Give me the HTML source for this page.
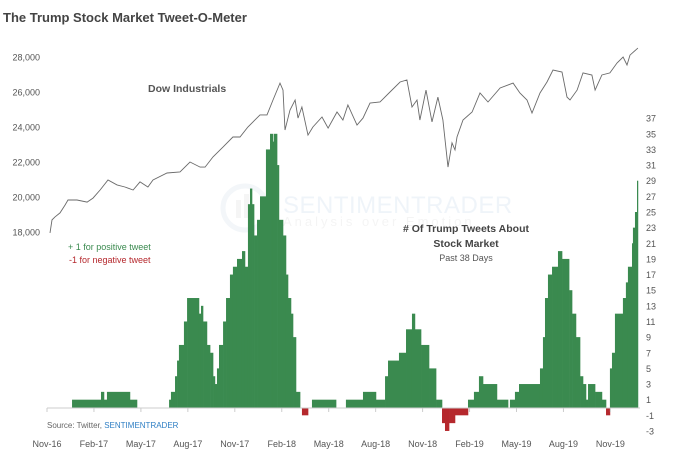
<!DOCTYPE html>
<html><head><meta charset="utf-8">
<style>
body{margin:0;background:#fff;}
svg{display:block;font-family:"Liberation Sans",sans-serif;}
</style></head>
<body>
<svg id="chart" width="679" height="459" viewBox="0 0 679 459">
  <text x="3" y="22" font-size="13" font-weight="bold" fill="#444">The Trump Stock Market Tweet-O-Meter</text>
  <g opacity="0.35">
    <circle cx="245" cy="208" r="22" fill="none" stroke="#dde6ee" stroke-width="5"/>
    <rect x="236" y="200" width="5" height="18" fill="#e4e4e4"/>
    <rect x="244" y="194" width="5" height="24" fill="#e4e4e4"/>
    <text x="283" y="213" font-size="24" fill="#d4e2ef" letter-spacing="0.5">SENTIMENTRADER</text>
    <text x="283" y="226" font-size="13" fill="#e2e2e2" letter-spacing="3">Analysis over Emotion</text>
  </g>
  <g id="leftAxis"></g>
  <g id="rightAxis"></g>
  <g id="bars"></g>
  <g id="xAxis"></g>
  <path id="dow" fill="none" stroke="#6a6a6a" stroke-width="0.9"/>
  <text x="148" y="92" font-size="10.5" font-weight="bold" fill="#555">Dow Industrials</text>
  <text x="68" y="250" font-size="9" fill="#3a8a4f">+ 1 for positive tweet</text>
  <text x="69" y="263" font-size="9" fill="#b5282d">-1 for negative tweet</text>
  <text x="466" y="232" font-size="10.5" font-weight="bold" fill="#444" text-anchor="middle"># Of Trump Tweets About</text>
  <text x="466" y="247" font-size="10.5" font-weight="bold" fill="#444" text-anchor="middle">Stock Market</text>
  <text x="466" y="261" font-size="9" fill="#555" text-anchor="middle">Past 38 Days</text>
  <text x="47" y="428" font-size="8" fill="#666">Source: Twitter, <tspan fill="#2f7fc4">SENTIMENTRADER</tspan></text>
</svg>
<script>
const monthLabels = ["Nov-16","Feb-17","May-17","Aug-17","Nov-17","Feb-18","May-18","Aug-18","Nov-18","Feb-19","May-19","Aug-19","Nov-19"];
const dowTicks = [18000,20000,22000,24000,26000,28000];
const tweetTicks = [-3,-1,1,3,5,7,9,11,13,15,17,19,21,23,25,27,29,31,33,35,37];
// months since Nov-2016
const stepStarts = [1.6,3.45,3.64,3.83,5.3,5.75,7.8,7.92,8.18,8.31,8.43,8.75,8.95,9.71,9.84,9.97,10.22,10.42,10.61,10.73,10.86,10.99,11.25,11.44,11.69,11.88,12.14,12.46,12.65,12.84,12.97,13.1,13.23,13.42,13.61,13.99,14.25,14.44,14.5,14.7,14.82,15.08,15.27,15.4,15.59,15.72,15.91,16.17,16.29,16.68,16.93,18.47,19.1,20.19,21.02,21.6,21.79,22.49,22.94,23.32,23.51,23.9,24.41,24.86,25.24,25.43,25.69,26.07,26.9,27.28,27.6,27.86,28.75,29.46,29.58,29.9,30.16,31.5,31.69,31.82,32.01,32.27,32.65,32.91,33.36,33.55,33.8,34.06,34.25,34.44,34.57,35.02,35.46,35.72,35.97,36.1,36.29,36.8,36.99,37.12,37.38,37.44,37.57,37.7];
const stepValues = [1,2,1,2,1,0,1,2,4,6,8,11,14,12,13,11,8,7,4,3,5,8,11,14,17,18,19,20,18,26,28,26,22,24,27,33,35,34,35,31,24,22,17,14,12,9,2,0,-1,0,1,0,1,2,1,4,6,7,10,12,10,8,5,1,-2,-3,-2,-1,1,2,4,3,1,0,1,2,3,5,9,14,17,18,20,19,15,12,9,4,3,1,3,2,1,-1,5,7,12,14,16,18,21,23,25,29];
const stepEnd = 37.76;
const dowMonths = [0.19,0.32,0.51,0.83,1.15,1.34,1.92,2.56,2.94,3.39,3.9,4.47,4.98,5.5,5.94,6.45,6.77,7.67,8.5,9.14,9.78,10.1,10.61,11.25,11.88,12.33,12.84,13.16,13.61,14.06,14.44,14.89,15.08,15.21,15.53,15.85,16.04,16.29,16.68,16.99,17.57,17.96,18.53,18.91,19.23,19.81,20.19,20.64,21.28,21.92,22.56,23.0,23.32,23.64,23.83,24.22,24.6,24.98,25.3,25.62,25.88,26.07,26.2,26.58,27.16,27.67,28.18,28.95,29.78,30.22,30.67,30.99,31.5,31.95,32.33,32.91,33.23,33.42,33.87,34.25,34.82,35.02,35.46,35.97,36.42,36.81,37.06,37.25,37.76];
const dowValues = [17950,18690,18860,19090,19540,19830,19830,19710,19940,20400,20970,20690,20570,20400,20860,20570,20970,21370,21430,22000,21710,21710,22290,22860,23430,23430,24000,24290,24690,24690,25540,26510,26110,23830,24970,25540,24510,25140,23540,24000,24570,23940,24860,24400,25260,24110,24510,25370,25430,26000,26570,26690,25140,25540,24400,26110,24290,25710,24400,21710,23090,22690,23430,24400,24860,25940,25430,26230,26510,25940,25540,24800,25940,26570,27260,27140,25710,25540,26110,27090,26970,26110,26970,27090,27660,28000,27540,28110,28510];

const NS = "http://www.w3.org/2000/svg";
const xScale = m => 47 + m * 15.65;
const yDow = v => 57 + (28000 - v) * 17.5 / 1000;
const yTw = v => 407.5 - v * 7.82;
function mk(tag, attrs, parent){ const e=document.createElementNS(NS,tag); for(const k in attrs) e.setAttribute(k,attrs[k]); parent.appendChild(e); return e; }

const la = document.getElementById('leftAxis');
dowTicks.forEach(t=>{
  const e = mk('text',{x:40,y:yDow(t)+3.5,'font-size':9,fill:'#555','text-anchor':'end'},la);
  
  
  e.textContent = t.toLocaleString('en-US');
});
const ra = document.getElementById('rightAxis');
tweetTicks.forEach(t=>{
  const e = mk('text',{x:646,y:yTw(t)+3.5,'font-size':9,fill:'#555'},ra);
  
  
  e.textContent = t;
});
const bg = document.getElementById('bars');
for(let i=0;i<stepStarts.length;i++){
  const v = stepValues[i]; if(v===0) continue;
  const x0 = xScale(stepStarts[i]), x1 = xScale(i+1<stepStarts.length?stepStarts[i+1]:stepEnd);
  const y0 = yTw(Math.max(v,0)), y1 = yTw(Math.min(v,0));
  const r = mk('rect',{x:x0,y:y0,width:x1-x0+0.3,height:y1-y0,fill:v>0?'#3a8a4f':'#b5282d'},bg);
  
  
}
const xa = document.getElementById('xAxis');
const ax = mk('line',{x1:47,x2:640,y1:408,y2:408,stroke:'#ccc','stroke-width':1},xa);


monthLabels.forEach((l,i)=>{
  const x = xScale(i*3);
  const tk = mk('line',{x1:x,x2:x,y1:408,y2:412,stroke:'#ccc'},xa);
  
  
  const e = mk('text',{x:x,y:447,'font-size':9,fill:'#555','text-anchor':'middle'},xa);
  
  
  e.textContent = l;
});
document.getElementById('dow').setAttribute('d', dowMonths.map((m,i)=>(i?'L':'M')+xScale(m).toFixed(1)+','+yDow(dowValues[i]).toFixed(1)).join(''));
</script>
</body></html>
